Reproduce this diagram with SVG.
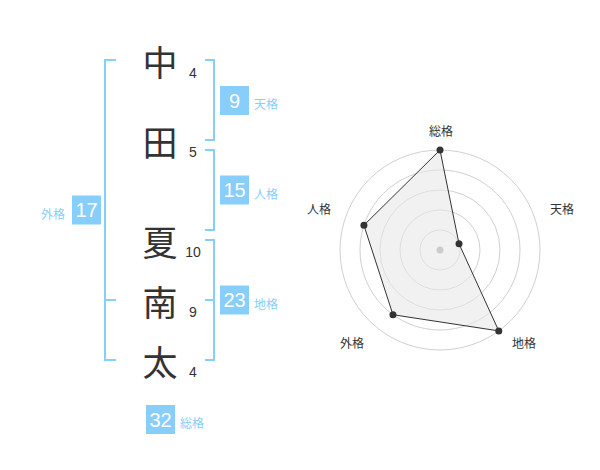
<svg xmlns="http://www.w3.org/2000/svg" width="600" height="470" viewBox="0 0 600 470">
<style>
.name{font-family:"Noto Sans CJK JP","Noto Sans CJK SC",sans-serif;font-size:35px;fill:#333;text-anchor:middle;dominant-baseline:central}
.stroke{font-family:"Liberation Sans",Arial,sans-serif;font-size:14px;fill:#333;text-anchor:middle}
.br{fill:none;stroke:#87cefa;stroke-width:2}
.box{fill:#87cefa}
.num{font-family:"Liberation Sans",Arial,sans-serif;font-size:20px;fill:#fff;text-anchor:middle;dominant-baseline:central}
.lab{font-family:"Noto Sans CJK JP","Noto Sans CJK SC",sans-serif;font-size:12px;fill:#87cefa}
.ring{fill:none;stroke:#d0d0d0;stroke-width:1}
.rl{font-family:"Noto Sans CJK JP","Noto Sans CJK SC",sans-serif;font-size:12px;fill:#333;text-anchor:middle;dominant-baseline:central}
.pt{fill:#333}
</style>
<g id="name-chars">
<text class="name" x="160" y="60">中</text>
<text class="name" x="160" y="140">田</text>
<text class="name" x="160" y="240">夏</text>
<text class="name" x="160" y="300">南</text>
<text class="name" x="160" y="360">太</text>
</g>
<g id="stroke-counts">
<text class="stroke" x="193" y="78">4</text>
<text class="stroke" x="193" y="157">5</text>
<text class="stroke" x="193" y="257">10</text>
<text class="stroke" x="193" y="317">9</text>
<text class="stroke" x="193" y="377">4</text>
</g>
<g id="connectors">
<path class="br" d="M205,60 H214 V140 H205"/>
<path class="br" d="M205,150 H214 V230 H205"/>
<path class="br" d="M205,240 H214 V360 H205 M205,300 H214"/>
<path class="br" d="M116,60 H105 V360 H116 M105,300 H116"/>
</g>
<g id="tenkaku">
<rect class="box" x="220" y="86" width="29" height="29"/>
<text class="num" x="234.5" y="100.5">9</text>
<text class="lab" x="254" y="109">天格</text>
</g>
<g id="jinkaku">
<rect class="box" x="220" y="175.5" width="29" height="29"/>
<text class="num" x="234.5" y="190">15</text>
<text class="lab" x="254" y="198.5">人格</text>
</g>
<g id="chikaku">
<rect class="box" x="220" y="285.5" width="29" height="29"/>
<text class="num" x="234.5" y="300">23</text>
<text class="lab" x="254" y="308.5">地格</text>
</g>
<g id="gaikaku">
<rect class="box" x="72" y="195.5" width="29" height="29"/>
<text class="num" x="86.5" y="210">17</text>
<text class="lab" x="41" y="218.5">外格</text>
</g>
<g id="soukaku">
<rect class="box" x="146" y="405" width="29" height="29"/>
<text class="num" x="160.5" y="419.5">32</text>
<text class="lab" x="180" y="428">総格</text>
</g>
<g id="radar">
<circle class="ring" cx="440" cy="250" r="20"/>
<circle class="ring" cx="440" cy="250" r="40"/>
<circle class="ring" cx="440" cy="250" r="60"/>
<circle class="ring" cx="440" cy="250" r="80"/>
<circle class="ring" cx="440" cy="250" r="100"/>
<polygon points="440,150 459.02,243.82 498.78,330.90 392.98,314.72 363.92,225.28" fill="#e8e8e8" fill-opacity="0.6" stroke="#333" stroke-width="1"/>
<circle cx="440" cy="250" r="3.5" fill="#ccc"/>
<circle class="pt" cx="440" cy="150" r="3.5"/>
<circle class="pt" cx="459.02" cy="243.82" r="3.5"/>
<circle class="pt" cx="498.78" cy="330.90" r="3.5"/>
<circle class="pt" cx="392.98" cy="314.72" r="3.5"/>
<circle class="pt" cx="363.92" cy="225.28" r="3.5"/>
<text class="rl" x="441" y="130">総格</text>
<text class="rl" x="562" y="208">天格</text>
<text class="rl" x="524" y="342">地格</text>
<text class="rl" x="352" y="342">外格</text>
<text class="rl" x="319" y="208">人格</text>
</g>
</svg>
